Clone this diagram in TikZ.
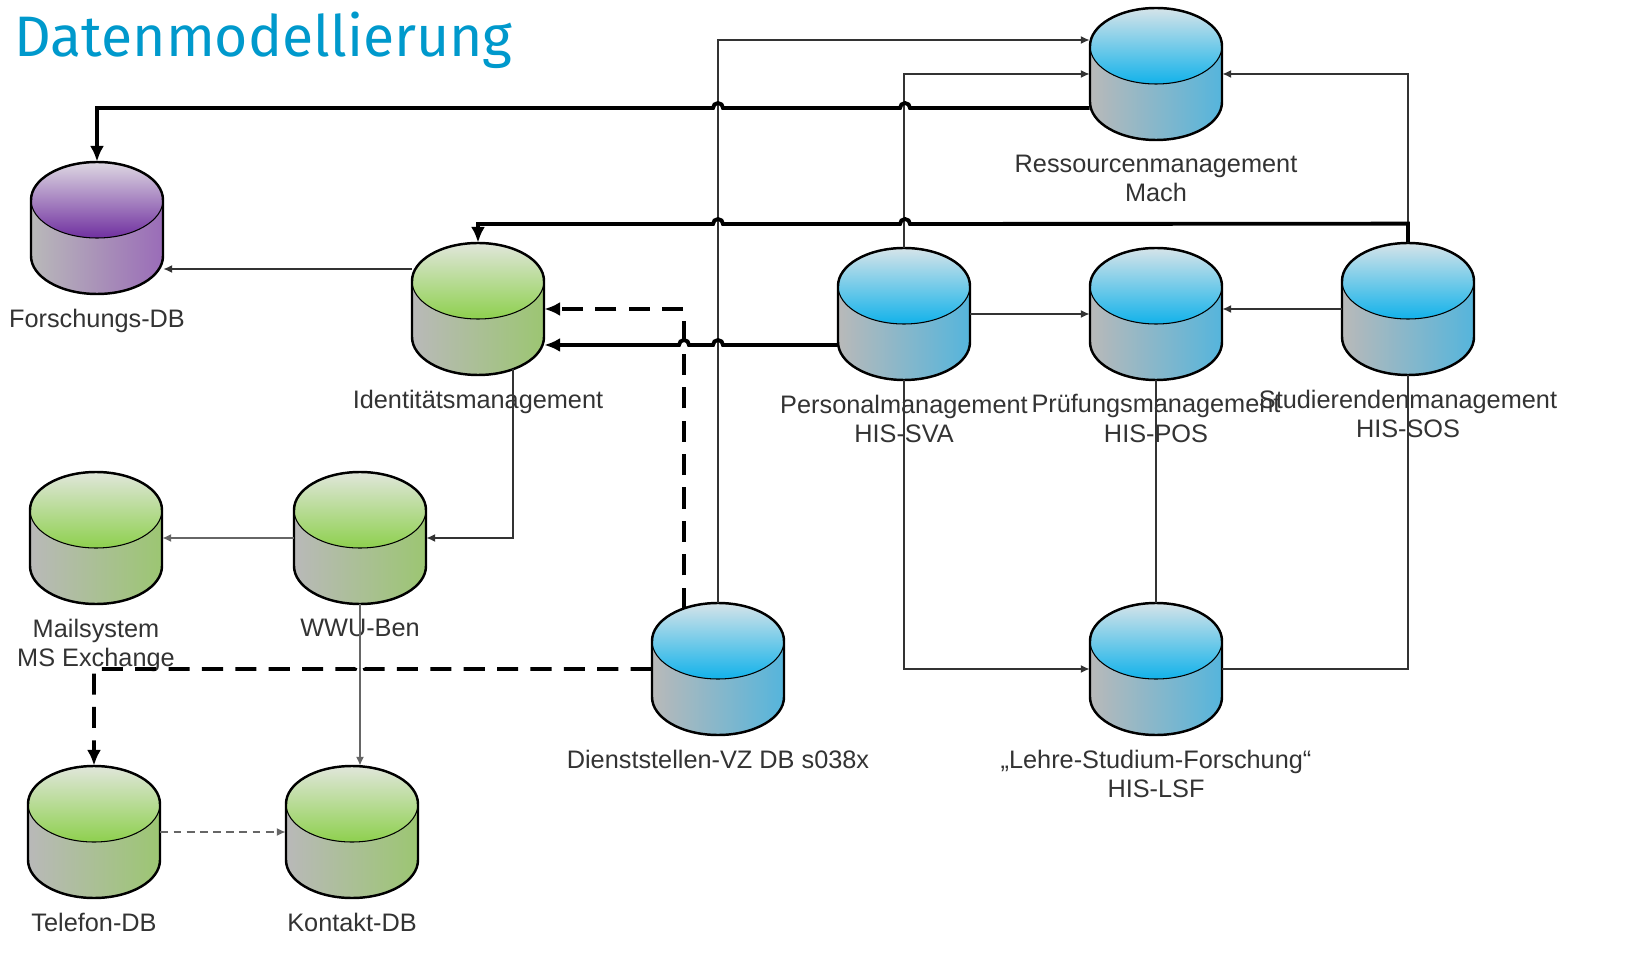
\documentclass[tikz,border=0pt]{standalone}
\usepackage{fontspec}
\setmainfont{Liberation Sans}
\newfontfamily\titlefont{Fira Sans}
\usepackage{tikz}
\usetikzlibrary{positioning,arrows.meta}

\definecolor{dbblue}{HTML}{12B2EA}
\definecolor{dbbluebody}{HTML}{55B5DC}
\definecolor{dbgreen}{HTML}{8ED04E}
\definecolor{dbgreenbody}{HTML}{9CC672}
\definecolor{dbpurple}{HTML}{7030A0}
\definecolor{dbpurplebody}{HTML}{9A6CB8}
\definecolor{titleblue}{HTML}{0099CC}

% Datenbank-Zylinder: Name, Mittelpunkt, Mantelfarbe, Deckelfarbe
\newcommand{\dbnode}[4]{%
  \begin{scope}[shift={(#2)}]
    \shade[left color=gray!55!white, right color=#3] (-66,28) -- (-66,-28)
      arc[start angle=180, end angle=360, x radius=66, y radius=38] -- (66,28) -- cycle;
    \shade[top color=#4!35!gray!25!white, bottom color=#4] (0,28) ellipse [x radius=66, y radius=38];
    \draw[line width=0.6pt] (0,28) ellipse [x radius=66, y radius=38];
    \draw[line width=1.4pt] (-66,28) -- (-66,-28)
      arc[start angle=180, end angle=360, x radius=66, y radius=38] -- (66,28)
      arc[start angle=0, end angle=180, x radius=66, y radius=38] -- cycle;
  \end{scope}
  \node[dbbox] (#1) at (#2) {};
}

\begin{document}
\begin{tikzpicture}[x=0.02cm, y=0.02cm,
  dbbox/.style={rectangle, minimum width=2.64cm, minimum height=2.64cm, inner sep=0pt},
  dblabel/.style={align=center, inner sep=0pt, text=black!80, font=\fontsize{14.4}{16.8}\selectfont},
  thinline/.style={line width=0.8pt, draw=black!80},
  flow/.style={thinline, -{Latex[length=5pt,width=4.5pt]}},
  grayflow/.style={flow, draw=black!60},
  copyflow/.style={grayflow, dash pattern=on 4.5pt off 3pt},
  mainflow/.style={line width=2.2pt, -{Latex[length=9pt,width=8pt]}},
  mainsync/.style={mainflow, dash pattern=on 12pt off 7pt}]
\useasboundingbox (0,0) rectangle (1643,-979);
\fill[white] (0,0) rectangle (1643,-979);

% Titel
\node[anchor=base west, inner sep=0pt, text=titleblue, font=\titlefont\fontsize{32.5}{38}\selectfont] (title) at (14,-57) {Datenmodellierung};

% Datenbanken
\dbnode{res}{1156,-74}{dbbluebody}{dbblue}
\dbnode{forsch}{97,-228}{dbpurplebody}{dbpurple}
\dbnode{ident}{478,-309}{dbgreenbody}{dbgreen}
\dbnode{pers}{904,-314}{dbbluebody}{dbblue}
\dbnode{pruef}{1156,-314}{dbbluebody}{dbblue}
\dbnode{stud}{1408,-309}{dbbluebody}{dbblue}
\dbnode{mail}{96,-538}{dbgreenbody}{dbgreen}
\dbnode{wwu}{360,-538}{dbgreenbody}{dbgreen}
\dbnode{dienst}{718,-669}{dbbluebody}{dbblue}
\dbnode{lsf}{1156,-669}{dbbluebody}{dbblue}
\dbnode{tel}{94,-832}{dbgreenbody}{dbgreen}
\dbnode{kont}{352,-832}{dbgreenbody}{dbgreen}

% Beschriftungen
\node[dblabel, below=0.28cm of res] (res-lbl) {Ressourcenmanagement\\Mach};
\node[dblabel, below=0.28cm of forsch] (forsch-lbl) {Forschungs-DB};
\node[dblabel, below=0.28cm of ident] (ident-lbl) {Identitätsmanagement};
\node[dblabel, below=0.28cm of pers] (pers-lbl) {Personalmanagement\\HIS-SVA};
\node[dblabel, below=0.28cm of pruef] (pruef-lbl) {Prüfungsmanagement\\HIS-POS};
\node[dblabel, below=0.28cm of stud] (stud-lbl) {Studierendenmanagement\\HIS-SOS};
\node[dblabel, below=0.28cm of mail] (mail-lbl) {Mailsystem\\MS Exchange};
\node[dblabel, below=0.28cm of wwu] (wwu-lbl) {WWU-Ben};
\node[dblabel, below=0.28cm of dienst] (dienst-lbl) {Dienststellen-VZ DB s038x};
\node[dblabel, below=0.28cm of lsf] (lsf-lbl) {„Lehre-Studium-Forschung“\\HIS-LSF};
\node[dblabel, below=0.28cm of tel] (tel-lbl) {Telefon-DB};
\node[dblabel, below=0.28cm of kont] (kont-lbl) {Kontakt-DB};

% Hilfspunkte
\coordinate (res-low) at ([yshift=-0.68cm]res.west);
\coordinate (res-high) at ([yshift=0.68cm]res.west);
\coordinate (pers-low) at ([yshift=-0.62cm]pers.west);
\coordinate (ident-high) at ([yshift=0.8cm]ident.west);

% Zulieferungen an das Ressourcenmanagement
\draw[flow] (dienst.north) |- (res-high);
\draw[flow] (pers.north) |- (res.west);
\draw[flow] (stud.north) |- (res.east);

% Hauptfluesse (dick)
\draw[mainflow] (res-low) -- (910,-108) arc[start angle=0, end angle=180, radius=5]
  -- (723,-108) arc[start angle=0, end angle=180, radius=5] -| (forsch.north);
\draw[mainflow] (stud.north) -- ++(0,19) -- (910,-224) arc[start angle=0, end angle=180, radius=5]
  -- (723,-224) arc[start angle=0, end angle=180, radius=5] -| (ident.north);
\draw[mainflow] (pers-low) -- (723,-345) arc[start angle=0, end angle=180, radius=5]
  -- (689,-345) arc[start angle=0, end angle=180, radius=5] -- (pers-low -| ident.east);

% Dienststellenverzeichnis (gestrichelt)
\draw[mainsync] ([xshift=-0.68cm,yshift=-0.12cm]dienst.north) |- (ident.east);
\draw[mainsync] (dienst.west) -- (365,-669) arc[start angle=0, end angle=180, radius=5] -| (tel.north);

% Identitaetsmanagement und Ableger
\draw[flow] (ident-high) -- (ident-high -| forsch.east);
\draw[flow] ([xshift=0.7cm,yshift=0.12cm]ident.south) |- (wwu.east);
\draw[grayflow] (wwu.west) -- (mail.east);
\draw[grayflow] (wwu.south) -- (wwu.south |- kont.north);
\draw[copyflow] (tel.east) -- (kont.west);

% HIS-Systeme
\draw[flow] (pers.east) -- (pruef.west);
\draw[flow] (stud.west) -- (stud.west -| pruef.east);
\draw[flow] (pers.south) |- (lsf.west);
\draw[thinline] (pruef.south) -- (lsf.north);
\draw[thinline] (stud.south) |- (lsf.east);
\end{tikzpicture}
\end{document}
